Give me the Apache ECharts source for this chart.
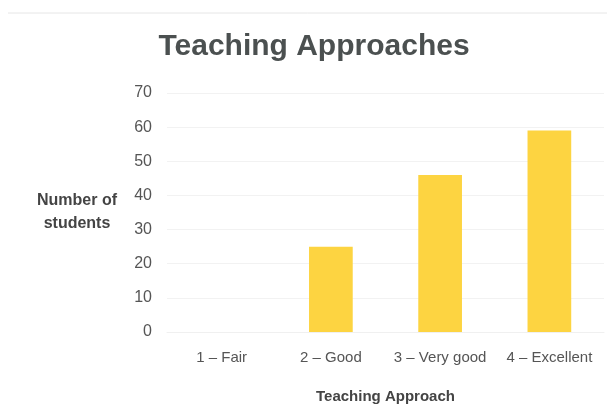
<!DOCTYPE html>
<html>
<head>
<meta charset="utf-8">
<script src="https://cdn.jsdelivr.net/npm/echarts@6/dist/echarts.min.js"></script>
<style>
  html, body { margin: 0; padding: 0; background: #fff; }
  #chart { width: 607px; height: 409px; }
</style>
</head>
<body>
<div id="chart"></div>
<script>
const categories = ['1 – Fair', '2 – Good', '3 – Very good', '4 – Excellent']
const students = [0, 25, 46, 59]
const yTicks = [0, 10, 20, 30, 40, 50, 60, 70]

const chart = echarts.init(document.getElementById('chart'))

const option = {
  animation: false,
  textStyle: { fontFamily: 'Liberation Sans' },
  title: {
    text: 'Teaching Approaches',
    left: 309,
    textAlign: 'center',
    top: 27,
    textStyle: {
      fontFamily: 'Liberation Sans',
      fontSize: 30,
      fontWeight: 'bold',
      color: '#4b5050'
    }
  },
  graphic: [
    {
      type: 'line',
      shape: { x1: 8, y1: 13, x2: 607, y2: 13 },
      style: { stroke: '#e6e6e6', lineWidth: 1 }
    }
  ],
  grid: {
    left: 167,
    right: 3,
    top: 93,
    bottom: 76
  },
  xAxis: {
    type: 'category',
    data: categories,
    name: 'Teaching Approach',
    nameLocation: 'middle',
    nameGap: 57,
    nameTextStyle: {
      fontSize: 15,
      color: '#444',
      fontWeight: 'bold'
    },
    axisLine: { show: true, lineStyle: { color: '#f0f0f0' } },
    axisTick: { show: false },
    axisLabel: {
      interval: 0,
      margin: 18,
      fontSize: 15,
      color: '#555'
    }
  },
  yAxis: {
    type: 'value',
    min: yTicks[0],
    max: yTicks[yTicks.length - 1],
    interval: 10,
    name: 'Number of\nstudents',
    nameLocation: 'middle',
    nameRotate: 0,
    nameGap: 90,
    nameMoveOverlap: false,
    nameTextStyle: {
      fontSize: 16,
      color: '#444',
      fontWeight: 'bold',
      align: 'center',
      lineHeight: 23
    },
    axisLine: { show: false },
    axisTick: { show: false },
    axisLabel: {
      margin: 15,
      fontSize: 16,
      color: '#555'
    },
    splitLine: { lineStyle: { color: '#f2f2f2' } }
  },
  series: [
    {
      type: 'bar',
      data: students,
      barWidth: '40%',
      itemStyle: { color: '#fdd441' }
    }
  ]
}

chart.setOption(option)
</script>
</body>
</html>
